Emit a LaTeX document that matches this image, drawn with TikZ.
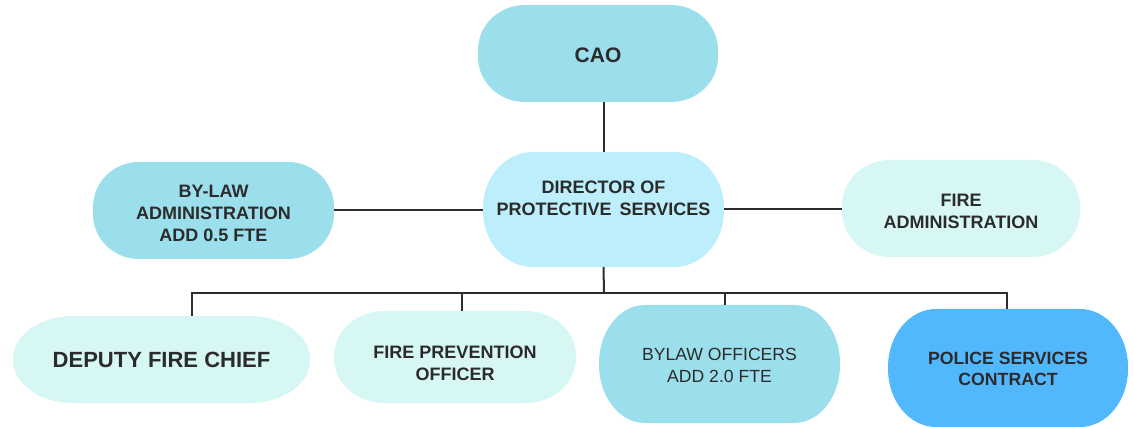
\documentclass[tikz,border=0pt]{standalone}
\usepackage{fontspec}
\setmainfont{Liberation Sans}
\definecolor{cyanA}{HTML}{9CDFEC}
\definecolor{cyanB}{HTML}{BDEEFB}
\definecolor{mintA}{HTML}{D6F7F3}
\definecolor{blueA}{HTML}{52B8FE}
\definecolor{txt}{HTML}{2B2B2B}
\definecolor{ln}{HTML}{2D2D2D}
\pgfdeclarelayer{bg}
\pgfsetlayers{bg,main}
\tikzset{
  orgbox/.style={inner sep=0pt, outer sep=0pt},
  lbl/.style={align=center, text=txt, inner sep=0pt,
    font=\bfseries\fontsize{18}{22}\selectfont},
  link/.style={draw=ln, line width=2pt}
}
% pill-shaped fill with elliptical corners: node, colour, rx, ry
\newcommand\pillfill[4]{%
  \fill[#2] ([xshift=#3]#1.north west) -- ([xshift=-#3]#1.north east)
    arc[start angle=90,end angle=0,x radius=#3,y radius=#4]
    -- ([yshift=#4]#1.south east)
    arc[start angle=0,end angle=-90,x radius=#3,y radius=#4]
    -- ([xshift=#3]#1.south west)
    arc[start angle=270,end angle=180,x radius=#3,y radius=#4]
    -- ([yshift=-#4]#1.north west)
    arc[start angle=180,end angle=90,x radius=#3,y radius=#4] -- cycle;}
\begin{document}
\begin{tikzpicture}[x=1pt,y=-1pt]
\useasboundingbox (0,0) rectangle (1134,427);
% boxes
\node[orgbox, minimum width=240pt, minimum height=97pt]  (cao)      at (598,53.5) {};
\node[orgbox, minimum width=241pt, minimum height=115pt] (dir)      at (603.5,209.5) {};
\node[orgbox, minimum width=241pt, minimum height=97pt]  (bylawadm) at (213.5,210.5) {};
\node[orgbox, minimum width=238pt, minimum height=97pt]  (fireadm)  at (961,208.5) {};
\node[orgbox, minimum width=297pt, minimum height=87pt]  (deputy)   at (161.5,359.5) {};
\node[orgbox, minimum width=242pt, minimum height=92pt]  (fireprev) at (455,357) {};
\node[orgbox, minimum width=241pt, minimum height=118pt] (bylawoff) at (719.5,364) {};
\node[orgbox, minimum width=240pt, minimum height=118pt] (police)   at (1008,368) {};
\begin{pgfonlayer}{bg}
  \pillfill{cao}{cyanA}{47pt}{45pt}
  \pillfill{dir}{cyanB}{50pt}{56pt}
  \pillfill{bylawadm}{cyanA}{46pt}{45pt}
  \pillfill{fireadm}{mintA}{48pt}{46pt}
  \pillfill{deputy}{mintA}{60pt}{43pt}
  \pillfill{fireprev}{mintA}{50pt}{45pt}
  \pillfill{bylawoff}{cyanA}{46pt}{58pt}
  \pillfill{police}{blueA}{48pt}{58pt}
\end{pgfonlayer}
% texts
\node[lbl, font=\bfseries\fontsize{21}{24}\selectfont] (cao-t) at ([yshift=-1.5pt]cao.center) {CAO};
\node[lbl] (dir-t) at ([yshift=11pt]dir.center) {DIRECTOR OF\\PROTECTIVE\hspace{0.45em}SERVICES};
\node[lbl] (bylawadm-t) at ([yshift=-3pt]bylawadm.center) {BY-LAW\\ADMINISTRATION\\ADD 0.5 FTE};
\node[lbl] (fireadm-t) at ([yshift=-2.5pt]fireadm.center) {FIRE\\ADMINISTRATION};
\node[lbl, font=\bfseries\fontsize{22}{26}\selectfont] (deputy-t) at (deputy.center) {DEPUTY FIRE CHIEF};
\node[lbl] (fireprev-t) at ([yshift=-6pt]fireprev.center) {FIRE PREVENTION\\OFFICER};
\node[lbl, font=\fontsize{17.6}{21.5}\selectfont] (bylawoff-t) at ([yshift=-1.5pt]bylawoff.center) {BYLAW OFFICERS\\ADD 2.0 FTE};
\node[lbl, font=\bfseries\fontsize{17.7}{21}\selectfont] (police-t) at ([yshift=-1pt]police.center) {POLICE SERVICES\\CONTRACT};
% connectors
\draw[link] (dir.north) -- (dir.north |- cao.south);
\draw[link] (bylawadm.east) -- (bylawadm.east -| dir.west);
\draw[link] (dir.east) -- (dir.east -| fireadm.west);
\coordinate (bus) at (604,293);
\draw[link] (dir.south) -- (bus);
\draw[link] (bus) -| ([xshift=30.5pt]deputy.north);
\draw[link] (bus) -| ([xshift=7pt]fireprev.north);
\draw[link] (bus) -| ([xshift=5.5pt]bylawoff.north);
\draw[link] (bus) -| ([xshift=-1pt]police.north);
\end{tikzpicture}
\end{document}
